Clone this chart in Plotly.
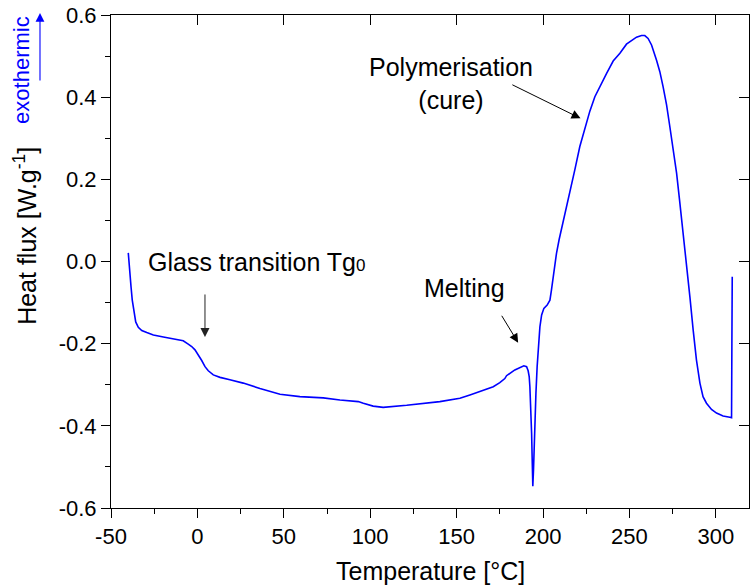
import plotly.graph_objects as go

# ---- data ----
temperature = [-40.0, -39.6, -39.0, -38.4, -37.7, -36.7, -35.7, -34.2, -32.2, -29.3,
               -25.5, -19.7, -14.0, -8.2, -5.3, -3.3, -1.4, 0.5, 2.5, 4.4,
               6.3, 9.2, 13.1, 18.8, 26.5, 36.2, 47.8, 59.3, 72.8, 82.5,
               93.1, 96.0, 101.7, 107.5, 121.1, 140.3, 151.9, 157.7, 163.5, 167.3,
               171.2, 175.0, 177.9, 178.9, 183.7, 188.9, 190.5, 191.4, 192.0, 192.4,
               193.0, 193.4, 193.7, 194.1, 194.5, 194.9, 195.3, 195.9, 196.6, 197.4,
               198.2, 199.2, 200.5, 202.4, 204.0, 204.9, 205.9, 206.9, 207.8, 209.3,
               212.6, 215.5, 218.4, 221.3, 224.2, 227.1, 230.0, 233.9, 236.8, 240.6,
               244.5, 248.3, 251.2, 254.1, 257.0, 258.9, 260.8, 262.8, 265.7, 267.6,
               269.5, 271.5, 273.4, 275.3, 277.3, 279.0, 282.1, 285.0, 286.9, 288.8,
               290.8, 292.6, 294.6, 297.5, 300.4, 304.2, 308.1, 309.1, 309.3, 309.5]
heat_flux = [0.021, -0.004, -0.029, -0.062, -0.094, -0.126, -0.147, -0.160, -0.168, -0.173,
             -0.179, -0.184, -0.189, -0.193, -0.201, -0.207, -0.215, -0.227, -0.241, -0.256,
             -0.266, -0.276, -0.282, -0.288, -0.296, -0.309, -0.323, -0.329, -0.332, -0.337,
             -0.341, -0.345, -0.352, -0.355, -0.350, -0.341, -0.333, -0.325, -0.317, -0.311,
             -0.305, -0.295, -0.285, -0.278, -0.264, -0.254, -0.256, -0.266, -0.280, -0.305,
             -0.354, -0.418, -0.476, -0.547, -0.507, -0.434, -0.378, -0.321, -0.256, -0.199,
             -0.159, -0.130, -0.114, -0.106, -0.094, -0.069, -0.037, -0.009, 0.020, 0.053,
             0.113, 0.167, 0.223, 0.280, 0.324, 0.366, 0.401, 0.435, 0.458, 0.488,
             0.507, 0.529, 0.537, 0.546, 0.550, 0.550, 0.543, 0.527, 0.490, 0.462,
             0.425, 0.381, 0.328, 0.275, 0.215, 0.150, 0.036, -0.086, -0.167, -0.240,
             -0.296, -0.329, -0.345, -0.360, -0.369, -0.376, -0.379, -0.380, -0.200, -0.037]

x_major = [-50, 0, 50, 100, 150, 200, 250, 300]
x_labels = ["-50", "0", "50", "100", "150", "200", "250", "300"]
x_minor = [-25, 25, 75, 125, 175, 225, 275]
y_major = [-0.6, -0.4, -0.2, 0.0, 0.2, 0.4, 0.6]
y_labels = ["-0.6", "-0.4", "-0.2", "0.0", "0.2", "0.4", "0.6"]
y_minor = [-0.5, -0.3, -0.1, 0.1, 0.3, 0.5]

X_RANGE = [-50, 319.2]
Y_RANGE = [-0.6, 0.6]
FONT = "Liberation Sans, Arial, Helvetica, sans-serif"

fig = go.Figure()
fig.add_trace(go.Scatter(x=temperature, y=heat_flux, mode="lines",
                         line=dict(color="#0000ff", width=1.6),
                         showlegend=False, hoverinfo="skip"))
# dummy trace so the mirrored (top/right) axes are drawn
fig.add_trace(go.Scatter(x=[None], y=[None], xaxis="x2", yaxis="y2",
                         showlegend=False, hoverinfo="skip"))

axis_common = dict(showgrid=False, zeroline=False, showline=True,
                   linecolor="black", linewidth=1, tickcolor="black", tickwidth=1)

fig.update_layout(
    width=750, height=585,
    margin=dict(l=111, r=1, t=15, b=77),
    plot_bgcolor="white", paper_bgcolor="white",
    font=dict(family=FONT, size=22, color="black"),
    showlegend=False,
    xaxis=dict(range=X_RANGE, tickmode="array", tickvals=x_major, ticktext=x_labels,
               ticks="outside", ticklen=9, tickfont=dict(size=22),
               minor=dict(tickmode="array", tickvals=x_minor, ticks="outside",
                          ticklen=5, tickcolor="black", tickwidth=1),
               **axis_common),
    yaxis=dict(range=Y_RANGE, tickmode="array", tickvals=y_major, ticktext=y_labels,
               ticks="outside", ticklen=9, tickfont=dict(size=22),
               minor=dict(tickmode="array", tickvals=y_minor, ticks="outside",
                          ticklen=5, tickcolor="black", tickwidth=1),
               **axis_common),
    xaxis2=dict(range=X_RANGE, overlaying="x", side="top", anchor="y",
                tickmode="array", tickvals=x_major, showticklabels=False,
                ticks="inside", ticklen=10, **axis_common),
    yaxis2=dict(range=Y_RANGE, overlaying="y", side="right", anchor="x",
                tickmode="array", tickvals=y_major, showticklabels=False,
                ticks="inside", ticklen=10, **axis_common),
)

annotations = [
    # axis titles
    dict(text="Temperature [°C]", xref="paper", yref="paper", x=0.5, y=-0.128,
         xanchor="center", yanchor="middle", showarrow=False, font=dict(size=25)),
    dict(text="Heat flux [W.g<sup>-1</sup>]", xref="paper", yref="paper",
         x=-0.1348, y=0.552, xanchor="center", yanchor="middle", textangle=-90,
         showarrow=False, font=dict(size=25)),
    dict(text="exothermic", xref="paper", yref="paper", x=-0.140, y=0.888,
         xanchor="center", yanchor="middle", textangle=-90, showarrow=False,
         font=dict(size=22, color="#0000ff")),
    dict(text="", xref="paper", yref="paper", x=-0.1113, y=1.004,
         axref="pixel", ayref="pixel", ax=0, ay=69, showarrow=True,
         arrowhead=2, arrowsize=1.6, arrowwidth=1.1, arrowcolor="#0000ff"),
    # in-plot labels
    dict(text="Glass transition Tg<span style='font-size:17px'>0</span>",
         xref="x", yref="y", x=-29.8, y=0.0, xanchor="left", yanchor="middle",
         showarrow=False, font=dict(size=25)),
    dict(text="Melting", xref="x", yref="y", x=154.8, y=-0.0645,
         xanchor="center", yanchor="middle", showarrow=False, font=dict(size=25)),
    dict(text="Polymerisation<br>(cure)", xref="x", yref="y", x=146.7, y=0.4336,
         xanchor="center", yanchor="middle", showarrow=False, font=dict(size=25)),
    # arrows
    dict(text="", xref="x", yref="y", x=4.38, y=-0.1837, axref="x", ayref="y",
         ax=4.38, ay=-0.0766, showarrow=True, arrowhead=2, arrowsize=1.8,
         arrowwidth=1.0, arrowcolor="#222222"),
    dict(text="", xref="x", yref="y", x=185.6, y=-0.1976, axref="x", ayref="y",
         ax=175.6, ay=-0.1285, showarrow=True, arrowhead=2, arrowsize=1.8,
         arrowwidth=1.0, arrowcolor="black"),
    dict(text="", xref="x", yref="y", x=221.7, y=0.3484, axref="x", ayref="y",
         ax=181.4, ay=0.4319, showarrow=True, arrowhead=2, arrowsize=1.8,
         arrowwidth=1.0, arrowcolor="black"),
]
fig.update_layout(annotations=annotations)

fig.write_html("out.html",
               config={"displayModeBar": False, "staticPlot": True},
               post_script="document.body.style.margin='0px';document.body.style.padding='0px';")
